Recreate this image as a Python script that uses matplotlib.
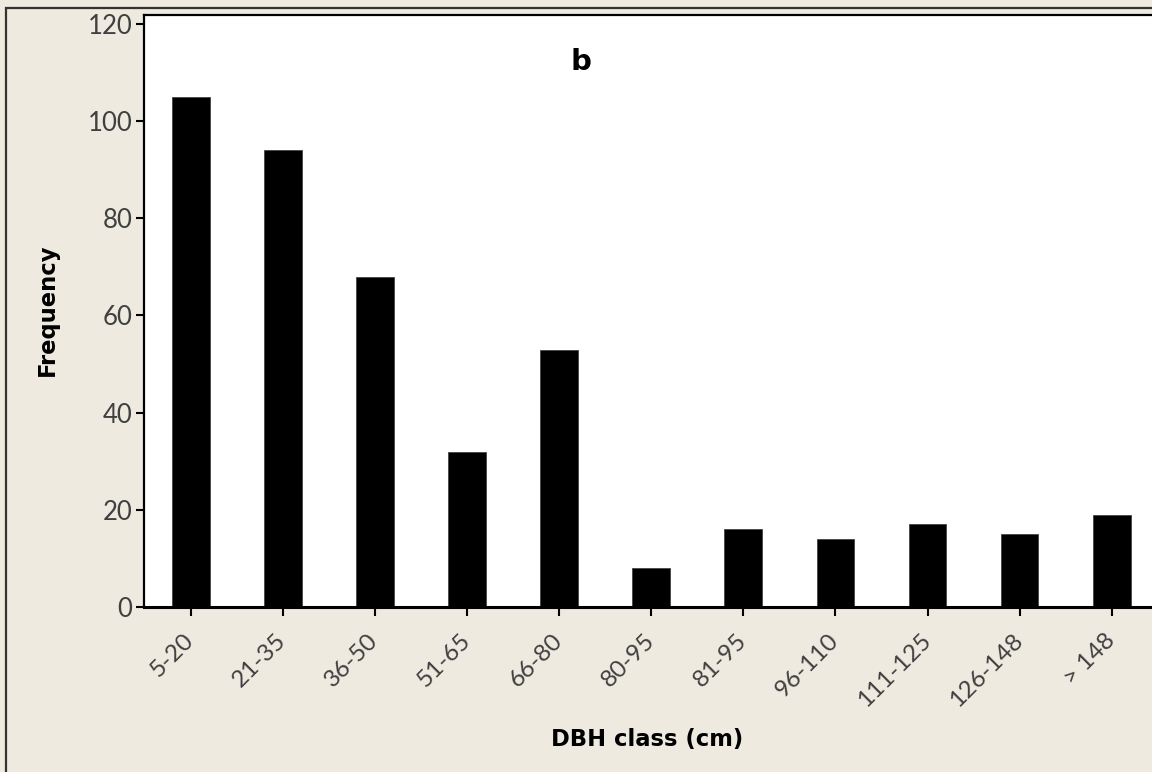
import matplotlib
matplotlib.use("Agg")
import matplotlib.pyplot as plt
from matplotlib.patches import Rectangle

# DBH class frequencies
dbh_classes = ["5-20", "21-35", "36-50", "51-65", "66-80", "80-95",
               "81-95", "96-110", "111-125", "126-148", "> 148"]
frequency = [105, 94, 68, 32, 53, 8, 16, 14, 17, 15, 19]
y_ticks = [0, 20, 40, 60, 80, 100, 120]

bg = "#eeeae0"
label_font = dict(family="DejaVu Sans", weight="bold", fontsize=16.3)

fig = plt.figure(figsize=(11.52, 7.72), dpi=100, facecolor=bg)

# outer frame of the graph window
fig.patches.append(Rectangle((6 / 1152, -0.1), 1.2, 1 - 8 / 772 + 0.1,
                             transform=fig.transFigure, fill=False,
                             edgecolor="#333333", linewidth=1.6, zorder=0))

ax = fig.add_axes([144 / 1152, 1 - 607 / 772, 0.880, 592 / 772])
ax.set_facecolor("white")

x = range(len(dbh_classes))
ax.bar(x, frequency, width=0.41, color="black", edgecolor="#444444",
       linewidth=0.6)

ax.set_xlim(-0.507, 10.5)
ax.set_ylim(0, 121.85)
ax.set_yticks(y_ticks)
ax.set_xticks(list(x))
ax.set_xticklabels(dbh_classes, rotation=45, ha="right", va="center",
                   rotation_mode="anchor")

for sp in ax.spines.values():
    sp.set_linewidth(1.6)
    sp.set_color("black")
ax.spines["bottom"].set_linewidth(2.2)

ax.tick_params(axis="y", direction="out", length=5.5, width=1.5, pad=3,
               labelsize=18.5, labelcolor="#404040")
ax.tick_params(axis="x", direction="out", length=6.5, width=1.5, pad=15,
               labelsize=17.5, labelcolor="#404040")
for lab in ax.get_xticklabels() + ax.get_yticklabels():
    lab.set_family("Lato")
    lab.set_fontweight("normal")

ax.set_xlabel("DBH class (cm)", labelpad=0, **label_font)
ax.xaxis.set_label_coords((647 - 144) / (0.880 * 1152), -(728 - 607) / 592)
ax.set_ylabel("Frequency", **label_font)
ax.yaxis.set_label_coords(-(144 - 59) / (0.880 * 1152), (607 - 310) / 592)
ax.text(4.24, 112.2, "b", ha="center", va="center",
        family="DejaVu Sans", weight="bold", fontsize=21)

fig.savefig("out.png", dpi=100, facecolor=bg)
